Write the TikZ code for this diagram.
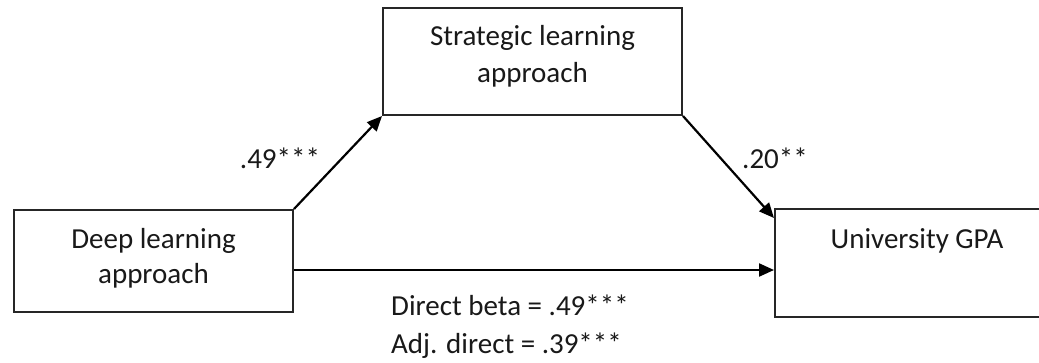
\documentclass[tikz,border=0pt]{standalone}
\usepackage{fontspec}
\setmainfont{Carlito}
\usetikzlibrary{arrows.meta,calc}
\tikzset{
  boxframe/.style={draw=black!85, line width=2pt, inner sep=0pt},
  boxtext/.style={anchor=base, align=center, inner sep=0pt, font=\fontsize{29}{35}\selectfont, text=black!90},
  lbl/.style={anchor=base, inner sep=0pt, font=\fontsize{29}{35}\selectfont, text=black!90},
  conn/.style={line width=2.2pt, -{Triangle[length=15pt,width=13pt]}}
}
\begin{document}
\begin{tikzpicture}[x=1pt,y=-1pt]
\useasboundingbox (0,0) rectangle (1039,362);
\clip (0,0) rectangle (1039,362);
\fill[white] (0,0) rectangle (1039,362);
% boxes
\node[boxframe, minimum width=279pt, minimum height=102pt] (deep) at (153.5,261) {};
\node[boxframe, minimum width=299pt, minimum height=107pt] (strat) at (532.5,61.5) {};
\node[boxframe, minimum width=284pt, minimum height=108pt] (gpa) at (917,263) {};
% box texts
\node[boxtext] (deept1) at (153.5,248) {Deep learning};
\node[boxtext] (deept2) at (153.5,283) {approach};
\node[boxtext] (strt1) at (532.5,45) {Strategic learning};
\node[boxtext] (strt2) at (532.5,82) {approach};
\node[boxtext] (gpat) at (917,248) {University GPA};
% connectors
\draw[conn] (deep.north east) -- (strat.south west);
\draw[conn] (strat.south east) -- ($(gpa.north west)+(0,10)$);
\coordinate (hstart) at ($(deep.east)+(0,9)$);
\draw[conn] (hstart) -- (hstart -| gpa.west);
% labels
\node[lbl] (l1) at (280,168) {.49***};
\node[lbl] (l2) at (775,168) {.20**};
\node[lbl, anchor=base west] (l3) at (391,315) {Direct beta = .49***};
\node[lbl, anchor=base west] (l4) at (391,353) {Adj. direct = .39***};
\end{tikzpicture}
\end{document}
